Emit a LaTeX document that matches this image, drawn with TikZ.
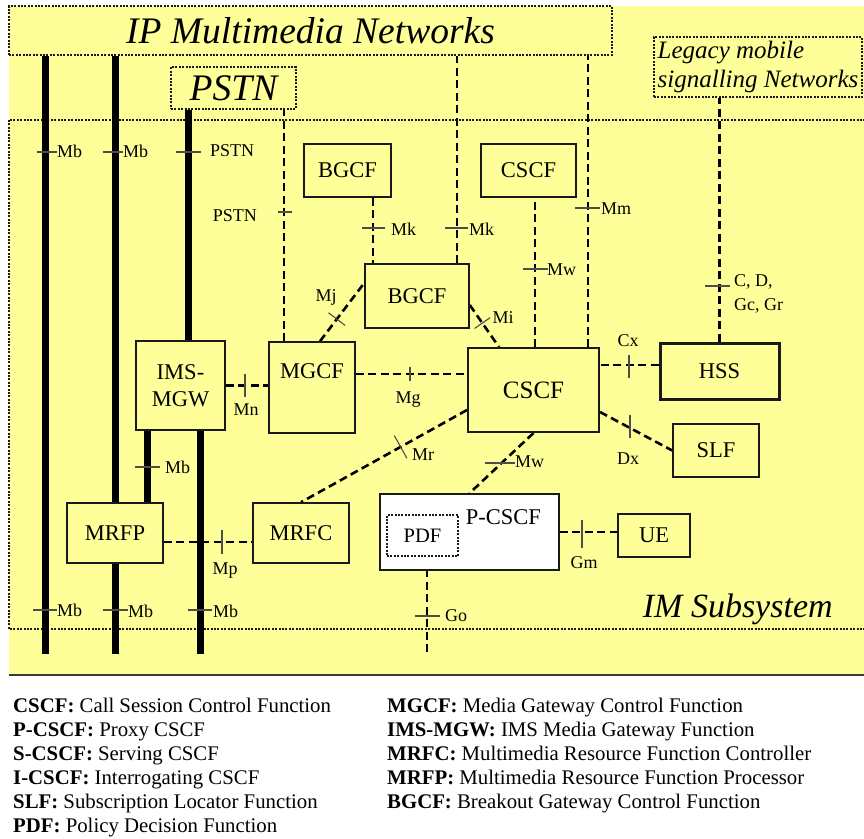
\documentclass[tikz,border=0pt]{standalone}
\usepackage{fontspec}
\setmainfont{Liberation Serif}
\usetikzlibrary{calc,backgrounds}
\definecolor{bgyellow}{HTML}{FFFF99}
\definecolor{ink}{HTML}{1A1A1A}
\definecolor{rulec}{HTML}{3A3A3A}
\definecolor{tickc}{HTML}{4D4D4D}
\tikzset{
  net/.style={draw=ink,line width=1.7pt,dash pattern=on 2pt off 1.4pt,inner sep=0pt,align=left,font=\fontsize{37.5}{40}\selectfont\itshape},
  fn/.style={draw=ink,line width=1.5pt,fill=bgyellow,inner sep=0pt,align=center,font=\fontsize{22.5}{27}\selectfont},
  fnw/.style={fn,fill=white},
  pdfbox/.style={fn,fill=white,line width=1.7pt,dash pattern=on 2pt off 1.4pt,font=\fontsize{20.5}{24}\selectfont},
  sig/.style={draw=black,line width=2.6pt,dash pattern=on 8pt off 4.5pt},
  bearer/.style={draw=black,line width=7pt},
  tk/.style={draw=tickc,line width=1.1pt},
  lbl/.style={inner sep=0pt,align=left,font=\fontsize{18}{24}\selectfont},
  key/.style={inner sep=0pt,anchor=north west,align=left,font=\fontsize{20.8}{24}\selectfont},
}

\begin{document}
\begin{tikzpicture}[x=1pt,y=-1pt]
\useasboundingbox (0,0) rectangle (864,838);

% outside networks
\node[net,minimum width=603pt,minimum height=49pt] (ipmn) at (310.5,30.5) {IP Multimedia Networks};
\node[net,minimum width=125pt,minimum height=42pt] (pstn) at (233.5,88) {PSTN};
\node[net,minimum width=208pt,minimum height=60pt,font=\fontsize{25}{29}\selectfont\itshape] (legacy) at (758,67) {Legacy mobile\\signalling Networks};
\node[net,draw=none,anchor=base west,font=\fontsize{34}{36}\selectfont\itshape] (ims) at (642,617) {IM Subsystem};

% functions
\node[fn,minimum width=87pt,minimum height=53pt] (bgcfa) at (347.5,170.5) {BGCF};
\node[fn,minimum width=95pt,minimum height=53pt] (cscfa) at (528.5,170.5) {CSCF};
\node[fn,minimum width=104pt,minimum height=64pt] (bgcfb) at (417,296) {BGCF};
\node[fn,minimum width=89pt,minimum height=89pt] (imsmgw) at (180.5,385.5) {IMS-\\MGW};
\node[fn,minimum width=86pt,minimum height=91pt,text height=15pt,text depth=34pt] (mgcf) at (312,387.5) {MGCF};
\node[fn,line width=2pt,minimum width=131pt,minimum height=84pt,font=\fontsize{25}{28}\selectfont] (cscf) at (533.5,390) {CSCF};
\node[fn,line width=3pt,minimum width=119pt,minimum height=56pt] (hss) at (719.5,371) {HSS};
\node[fn,minimum width=86pt,minimum height=53pt] (slf) at (716,450.5) {SLF};
\node[fn,minimum width=96pt,minimum height=60pt] (mrfp) at (115,533) {MRFP};
\node[fn,minimum width=96pt,minimum height=60pt] (mrfc) at (301,533) {MRFC};
\node[fnw,minimum width=179pt,minimum height=76pt,text width=143pt,align=right,inner xsep=18pt,text height=15pt,text depth=30pt] (pcscf) at (469.5,532) {P-CSCF};
\node[pdfbox,minimum width=71pt,minimum height=41pt] (pdf) at (422.5,535.5) {PDF};
\node[fn,minimum width=72pt,minimum height=43pt] (ue) at (654,535.5) {UE};

\coordinate (footA) at (45.5,654);
\coordinate (footB) at (115,654);
\coordinate (footC) at (200.5,654);
\coordinate (footD) at (427,655);
\coordinate (mjA) at ([xshift=8pt]mgcf.north);
\coordinate (mjB) at ([yshift=13pt]bgcfb.west);
\coordinate (miA) at ([yshift=-9pt]bgcfb.east);
\coordinate (miB) at ([xshift=-34.5pt]cscf.north);
\coordinate (mrA) at ([yshift=-20pt]cscf.west);
\coordinate (dxA) at ([yshift=-22pt]cscf.east);

\begin{scope}[on background layer]
\fill[bgyellow] (9,6) rectangle (864,675);
\draw[rulec,line width=2pt] (9,675) -- (864,675);
\draw[net] (9,120) rectangle (870,629);
% bearer paths
\draw[bearer] (footA |- ipmn.south) -- (footA);
\draw[bearer] (mrfp.north |- ipmn.south) -- (mrfp.north);
\draw[bearer] (mrfp.south) -- (footB);
\draw[bearer] ([xshift=7.5pt]imsmgw.north) -- ([xshift=7.5pt]imsmgw.north |- pstn.south);
\draw[bearer] ([xshift=-33pt]imsmgw.south) -- ([xshift=-33pt]imsmgw.south |- mrfp.north);
\draw[bearer] (footC |- imsmgw.south) -- (footC);
% signalling
\draw[sig] ([xshift=-28pt]mgcf.north) -- ([xshift=-28pt]mgcf.north |- pstn.south);
\draw[sig] ([xshift=25.5pt]bgcfa.south) -- ([xshift=25.5pt]bgcfa.south |- bgcfb.north);
\draw[sig] ([xshift=40pt]bgcfb.north) -- ([xshift=40pt]bgcfb.north |- ipmn.south);
\draw[sig] ([xshift=1.5pt]cscf.north) -- ([xshift=1.5pt]cscf.north |- cscfa.south);
\draw[sig] ([xshift=54.5pt]cscf.north) -- ([xshift=54.5pt]cscf.north |- ipmn.south);
\draw[sig] (hss.north) -- (hss.north |- legacy.south);
\draw[sig] (imsmgw.east) -- (imsmgw.east -| mgcf.west);
\draw[sig] ([yshift=13.5pt]mgcf.east) -- ([yshift=13.5pt]mgcf.east -| cscf.west);
\draw[sig] ([yshift=6pt]hss.west) -- ([yshift=6pt]hss.west -| cscf.east);
\draw[sig] ([yshift=-9pt]mrfp.east) -- ([yshift=-9pt]mrfp.east -| mrfc.west);
\draw[sig] (pcscf.east) -- (pcscf.east -| ue.west);
\draw[sig] ([xshift=4.5pt]pdf.south) -- (footD);
\draw[sig] (mjA) -- (mjB);
\draw[sig] (miA) -- (miB);
\draw[sig] (mrA) -- (mrfc.north);
\draw[sig] (dxA) -- (slf.west);
\draw[sig] (cscf.south) -- (pcscf.north);
\end{scope}

% reference points
\draw[tk] (37,152) -- (57,152);
\node[lbl,right] (rMbA) at (57,151) {Mb};
\draw[tk] (103,152) -- (123,152);
\node[lbl,right] (rMbB) at (123,151) {Mb};
\draw[tk] (176,152) -- (201,152);
\node[lbl,right] (rPstnA) at (210,151) {PSTN};
\draw[tk] (278,212) -- (292,212);
\node[lbl,left] (rPstnB) at (257,216) {PSTN};
\draw[tk] (362,228) -- (385,228);
\node[lbl,right] (rMkA) at (391,229) {Mk};
\draw[tk] (445,228) -- (468,228);
\node[lbl,right] (rMkB) at (469,229) {Mk};
\draw[tk] (575,208) -- (600,208);
\node[lbl,right] (rMm) at (601,209) {Mm};
\draw[tk] (523,269) -- (548,269);
\node[lbl,right] (rMwA) at (547,270) {Mw};
\draw[tk] (705,286) -- (730,286);
\node[lbl,right] (rCD) at (734,294) {C, D,\\Gc, Gr};
\draw[tk] ($(mjA)!.38!(mjB)!10.5pt!90:(mjB)$) -- ($(mjA)!.38!(mjB)!10.5pt!-90:(mjB)$);
\node[lbl] (rMj) at (326,297) {Mj};
\draw[tk] ($(miA)!.43!(miB)!9.5pt!90:(miB)$) -- ($(miA)!.43!(miB)!9.5pt!-90:(miB)$);
\node[lbl] (rMi) at (503,318) {Mi};
\draw[tk] (245,374) -- (245,397);
\node[lbl] (rMn) at (246,410) {Mn};
\draw[tk] (410,367) -- (410,381);
\node[lbl] (rMg) at (408,400) {Mg};
\draw[tk] (629,355) -- (629,378);
\node[lbl] (rCx) at (628,341) {Cx};
\draw[tk] (630,415) -- (630,438);
\node[lbl] (rDx) at (628,459) {Dx};
\draw[tk] ($(mrA)!.40!(mrfc.north)!13pt!90:(mrfc.north)$) -- ($(mrA)!.40!(mrfc.north)!13pt!-90:(mrfc.north)$);
\node[lbl,right] (rMr) at (412,455) {Mr};
\draw[tk] (485,463) -- (515,463);
\node[lbl,right] (rMwB) at (515,462) {Mw};
\draw[tk] (135,467) -- (160,467);
\node[lbl,right] (rMbC) at (165,467) {Mb};
\draw[tk] (222,530) -- (222,554);
\node[lbl] (rMp) at (225,571) {Mp};
\draw[tk] (582,520) -- (582,548);
\node[lbl] (rGm) at (584,563) {Gm};
\draw[tk] (415,616) -- (440,616);
\node[lbl,right] (rGo) at (445,616) {Go};
\draw[tk] (33,610) -- (57,610);
\node[lbl,right] (rMbD) at (57,610) {Mb};
\draw[tk] (103,610) -- (128,610);
\node[lbl,right] (rMbE) at (128,611) {Mb};
\draw[tk] (188,610) -- (212,610);
\node[lbl,right] (rMbF) at (213,611) {Mb};

% legend
\node[key] (keyL) at (13,698) {\textbf{CSCF:} Call Session Control Function\\
\textbf{P-CSCF:} Proxy CSCF\\
\textbf{S-CSCF:} Serving CSCF\\
\textbf{I-CSCF:} Interrogating CSCF\\
\textbf{SLF:} Subscription Locator Function\\
\textbf{PDF:} Policy Decision Function};
\node[key] (keyR) at (387,698) {\textbf{MGCF:} Media Gateway Control Function\\
\textbf{IMS-MGW:} IMS Media Gateway Function\\
\textbf{MRFC:} Multimedia Resource Function Controller\\
\textbf{MRFP:} Multimedia Resource Function Processor\\
\textbf{BGCF:} Breakout Gateway Control Function};
\end{tikzpicture}
\end{document}
